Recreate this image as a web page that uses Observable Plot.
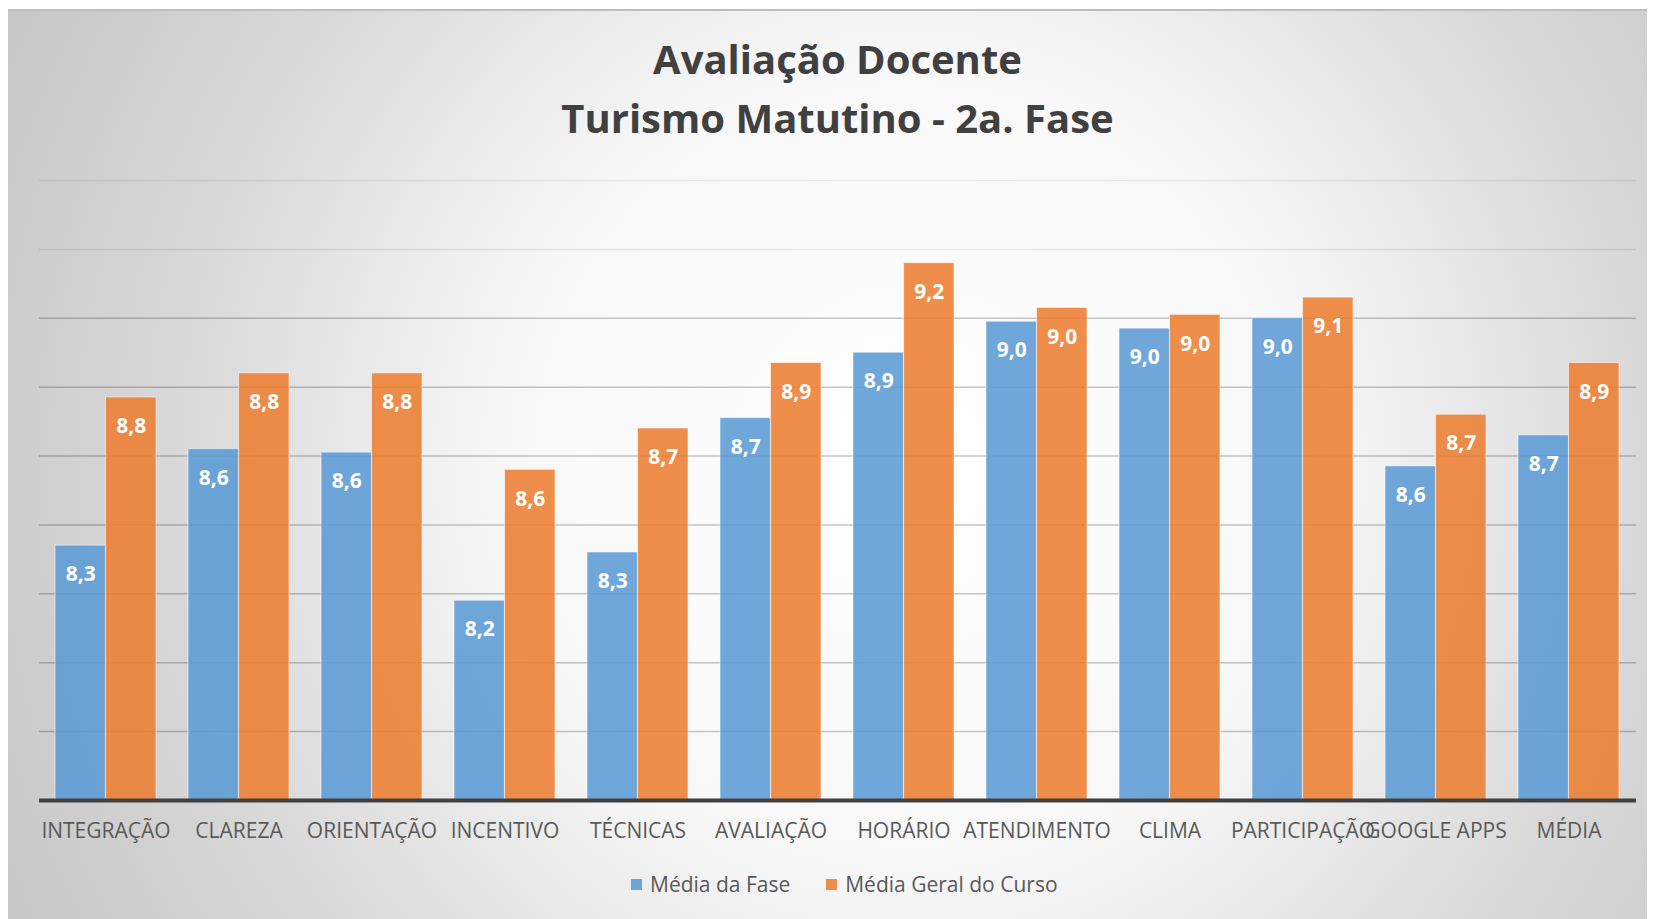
<!DOCTYPE html>
<html>
<head>
<meta charset="utf-8">
<script src="https://cdn.jsdelivr.net/npm/d3@7"></script>
<script src="https://cdn.jsdelivr.net/npm/@observablehq/plot@0.6"></script>
<style>
  html, body { margin: 0; padding: 0; background: #ffffff; width: 1654px; height: 919px; overflow: hidden; }
  #panel {
    position: absolute; left: 8px; top: 9px; width: 1639px; height: 910px;
    background: radial-gradient(ellipse 60% 110% at 55% 50%, #ffffff 0%, #f8f8f8 40%, #d8d8d8 75%, #c8c8c8 100%);
    border-top: 2px solid #bdbdbd; box-sizing: border-box;
  }
  #title {
    position: absolute; left: 39px; top: 29px; width: 1597px; text-align: center;
    font-family: "Open Sans", sans-serif; font-weight: 700; font-size: 40px; line-height: 59px; color: #404040;
  }
  #chart { position: absolute; left: 0; top: 0; }
  #legend {
    position: absolute; left: 631px; top: 870px; height: 28px; display: flex; align-items: center;
    font-family: "Open Sans", sans-serif; font-size: 21px; color: #595959;
  }
  .item { display: flex; align-items: center; margin-right: 36px; }
  .sw { width: 11px; height: 11px; margin-right: 8px; }
</style>
</head>
<body>
<div id="panel"></div>
<div id="chart"></div>
<div id="title"></div>
<div id="legend"></div>
<script>
// ---- data ----
const titleLines = ["Avaliação Docente", "Turismo Matutino - 2a. Fase"];
const categories = ["INTEGRAÇÃO", "CLAREZA", "ORIENTAÇÃO", "INCENTIVO", "TÉCNICAS", "AVALIAÇÃO", "HORÁRIO", "ATENDIMENTO", "CLIMA", "PARTICIPAÇÃO", "GOOGLE APPS", "MÉDIA"];
const seriesNames = ["Média da Fase", "Média Geral do Curso"];
const mediaDaFase = [8.34, 8.62, 8.61, 8.18, 8.32, 8.71, 8.90, 8.99, 8.97, 9.00, 8.57, 8.66];
const mediaGeralCurso = [8.77, 8.84, 8.84, 8.56, 8.68, 8.87, 9.16, 9.03, 9.01, 9.06, 8.72, 8.87];
const yDomain = [7.6, 9.4];
const gridTicks = [7.8, 8.0, 8.2, 8.4, 8.6, 8.8, 9.0, 9.2, 9.4];
const seriesColors = ["#5b9bd5", "#ed7d31"];

// ---- layout ----
const W = 1654, H = 919;
const mL = 39, mR = 18, mT = 180, mB = 119;
const pIn = 0.24, pOut = 0.12;
const step = (W - mL - mR) / (categories.length - pIn + 2 * pOut);
const bw = step * (1 - pIn);
const half = bw / 2;

const fmt = v => v.toFixed(1).replace(".", ",");
const rowsA = categories.map((c, i) => ({cat: c, value: mediaDaFase[i]}));
const rowsB = categories.map((c, i) => ({cat: c, value: mediaGeralCurso[i]}));

document.getElementById("title").innerHTML = titleLines.join("<br>");

const chart = Plot.plot({
  width: W, height: H,
  marginLeft: mL, marginRight: mR, marginTop: mT, marginBottom: mB,
  style: {background: "transparent", fontFamily: "'Open Sans', sans-serif", fontSize: "21px", color: "#595959"},
  x: {type: "band", domain: categories, paddingInner: pIn, paddingOuter: pOut},
  y: {domain: yDomain, axis: null},
  marks: [
    Plot.ruleY(gridTicks.filter(t => t < 9.1), {stroke: "#000", strokeOpacity: 0.22, strokeWidth: 1.5}),
    Plot.ruleY(gridTicks.filter(t => t > 9.1), {stroke: "#000", strokeOpacity: 0.07, strokeWidth: 1.5}),
    Plot.barY(rowsA, {x: "cat", y1: yDomain[0], y2: "value", fill: seriesColors[0], fillOpacity: 0.88,
      stroke: "#ffffff", strokeOpacity: 0.55, strokeWidth: 1, insetRight: half}),
    Plot.barY(rowsB, {x: "cat", y1: yDomain[0], y2: "value", fill: seriesColors[1], fillOpacity: 0.88,
      stroke: "#ffffff", strokeOpacity: 0.55, strokeWidth: 1, insetLeft: half}),
    Plot.text(rowsA, {x: "cat", y: "value", text: d => fmt(d.value), dx: -bw / 4, dy: 29,
      fill: "#ffffff", fontWeight: "bold", fontSize: 21, lineAnchor: "middle"}),
    Plot.text(rowsB, {x: "cat", y: "value", text: d => fmt(d.value), dx: bw / 4, dy: 29,
      fill: "#ffffff", fontWeight: "bold", fontSize: 21, lineAnchor: "middle"}),
    Plot.ruleY([yDomain[0]], {stroke: "#404040", strokeWidth: 4}),
    Plot.axisX({tickSize: 0, tickPadding: 23, fontSize: 21, fill: "#595959", label: null})
  ]
});
document.getElementById("chart").appendChild(chart);

const legend = document.getElementById("legend");
seriesNames.forEach((name, i) => {
  const item = document.createElement("div");
  item.className = "item";
  const sw = document.createElement("span");
  sw.className = "sw";
  sw.style.background = seriesColors[i];
  sw.style.opacity = 0.88;
  const label = document.createElement("span");
  label.textContent = name;
  item.appendChild(sw);
  item.appendChild(label);
  legend.appendChild(item);
});
</script>
</body>
</html>
